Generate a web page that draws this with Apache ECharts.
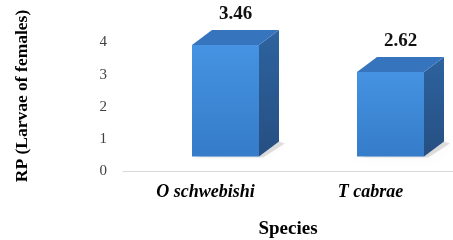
<!DOCTYPE html>
<html>
<head>
<meta charset="utf-8">
<script src="https://cdn.jsdelivr.net/npm/echarts@6/dist/echarts.min.js"></script>
<style>
  html, body { margin: 0; padding: 0; background: #fff; }
  #chart { width: 453px; height: 240px; }
</style>
</head>
<body>
<div id="chart"></div>
<script>
// data
const species = ['O schwebishi', 'T cabrae'];
const rpValues = [3.46, 2.62];
const yTicks = [0, 1, 2, 3, 4];

const serif = '"Liberation Serif", "Times New Roman", serif';

// 3D box geometry (pixels)
const BOX_W = 67;      // front face width
const SHIFT_X = 20;    // front face shift from category centre
const LIFT = 15;       // front face lifted above the floor line
const DEPTH_X = 20;    // depth offset
const DEPTH_Y = -15;

const chart = echarts.init(document.getElementById('chart'));

function renderBox(params, api) {
    const cat = api.value(0);
    const val = api.value(1);
    const top = api.coord([cat, val]);
    const base = api.coord([cat, 0]);
    const cx = top[0] + SHIFT_X;
    const L = cx - BOX_W / 2, R = cx + BOX_W / 2;
    const T = top[1] - LIFT, B = base[1] - LIFT;

    return {
        type: 'group',
        children: [
            {   // floor shadow
                type: 'polygon',
                shape: { points: [[L + 2, B + 1], [R + 4, B + 1], [R + DEPTH_X + 6, B + DEPTH_Y + 2], [R + DEPTH_X, B + DEPTH_Y]] },
                style: { fill: 'rgba(0,0,0,0.12)', shadowBlur: 6, shadowColor: 'rgba(0,0,0,0.25)' }
            },
            {   // side
                type: 'polygon',
                shape: { points: [[R, T], [R + DEPTH_X, T + DEPTH_Y], [R + DEPTH_X, B + DEPTH_Y], [R, B]] },
                style: {
                    fill: new echarts.graphic.LinearGradient(0, 0, 0, 1, [
                        { offset: 0, color: '#2d639f' },
                        { offset: 1, color: '#264f82' }
                    ])
                }
            },
            {   // top
                type: 'polygon',
                shape: { points: [[L, T], [L + DEPTH_X, T + DEPTH_Y], [R + DEPTH_X, T + DEPTH_Y], [R, T]] },
                style: { fill: '#3675bd' }
            },
            {   // front
                type: 'rect',
                shape: { x: L, y: T, width: BOX_W, height: B - T },
                style: {
                    fill: new echarts.graphic.LinearGradient(0, 0, 0, 1, [
                        { offset: 0, color: '#4593e2' },
                        { offset: 1, color: '#357cc9' }
                    ])
                }
            },
            {   // value label
                type: 'text',
                x: cx + DEPTH_X / 2,
                y: T + DEPTH_Y - 6,
                style: {
                    text: val.toFixed(2),
                    font: 'bold 19px ' + serif,
                    fill: '#111',
                    align: 'center',
                    verticalAlign: 'bottom'
                }
            }
        ]
    };
}

chart.setOption({
    animation: false,
    grid: { left: 123, right: 0, top: 42.5, bottom: 68.5, containLabel: false, outerBoundsMode: 'none' },
    xAxis: {
        type: 'category',
        data: species,
        axisLine: { lineStyle: { color: '#d9d9d9', width: 1 } },
        axisTick: { show: false },
        axisLabel: {
            margin: 12,
            fontFamily: serif, fontSize: 18, fontWeight: 'bold', fontStyle: 'italic', color: '#000'
        },
        name: 'Species',
        nameLocation: 'middle',
        nameGap: 48,
        nameTextStyle: { fontFamily: serif, fontSize: 19, fontWeight: 'bold', color: '#000' }
    },
    yAxis: {
        type: 'value',
        min: yTicks[0],
        max: yTicks[yTicks.length - 1],
        interval: 1,
        axisLine: { show: false },
        axisTick: { show: false },
        splitLine: { show: false },
        axisLabel: { margin: 16, fontFamily: serif, fontSize: 15, color: '#404040' }
    },
    graphic: [{
        type: 'text',
        x: 22, y: 96,
        rotation: Math.PI / 2,
        style: {
            text: 'RP (Larvae of females)',
            font: 'bold 17.5px ' + serif,
            fill: '#000',
            align: 'center',
            verticalAlign: 'middle'
        }
    }],
    series: [{
        type: 'custom',
        renderItem: renderBox,
        data: species.map((s, i) => [i, rpValues[i]]),
        clip: false
    }]
});
</script>
</body>
</html>
